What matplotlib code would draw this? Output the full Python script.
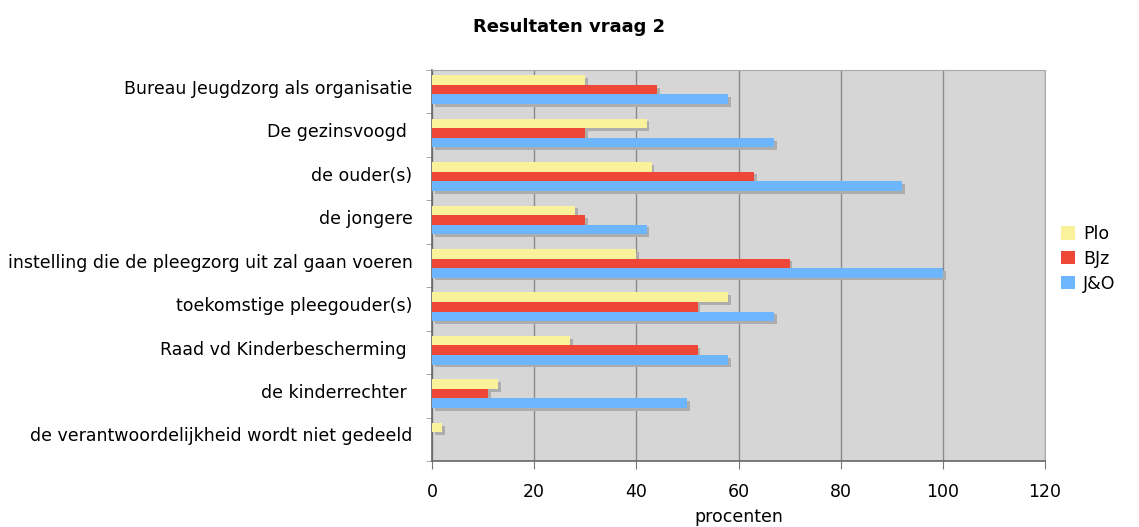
import matplotlib.pyplot as plt
import numpy as np
from matplotlib import patheffects as pe

# ======================
# DATA
# ======================

categories = [
    "Bureau Jeugdzorg als organisatie",
    "De gezinsvoogd ",
    "de ouder(s)",
    "de jongere",
    "instelling die de pleegzorg uit zal gaan voeren",
    "toekomstige pleegouder(s)",
    "Raad vd Kinderbescherming ",
    "de kinderrechter ",
    "de verantwoordelijkheid wordt niet gedeeld",
]

series_names = ["Plo", "BJz", "J&O"]
plo = [30, 42, 43, 28, 40, 58, 27, 13, 2]
bjz = [44, 30, 63, 30, 70, 52, 52, 11, 0]
jo = [58, 67, 92, 42, 100, 67, 58, 50, 0]

x_ticks = [0, 20, 40, 60, 80, 100, 120]

colors = ["#f9f29a", "#ee4637", "#6db5fc"]

# ======================
# PLOTTING
# ======================

plt.rcParams["font.family"] = ["DejaVu Sans"]

fig = plt.figure(figsize=(11.39, 5.27), dpi=100)
ax = fig.add_axes([432 / 1139, 1 - 461 / 527, 613 / 1139, 391 / 527])
ax.set_facecolor("#d6d6d6")

n = len(categories)
y = np.arange(n)
bar_h = 0.22
shadow = [pe.SimplePatchShadow(offset=(2, -2), shadow_rgbFace="#adadad", alpha=1.0), pe.Normal()]

for i, (name, vals) in enumerate(zip(series_names, [plo, bjz, jo])):
    offs = (i - 1) * bar_h - 0.05
    bars = ax.barh(y + offs, vals, height=bar_h, color=colors[i], label=name,
                   zorder=3 + i)
    for b, v in zip(bars, vals):
        if v > 0:
            b.set_path_effects(shadow)

ax.set_ylim(n - 0.5, -0.5)
ax.set_xlim(0, 120)
ax.set_xticks(x_ticks)
ax.set_xticklabels([str(t) for t in x_ticks], fontsize=12.5)
ax.xaxis.grid(True, color="#8a8a8a", linewidth=1, zorder=1)
ax.set_axisbelow(True)

# labels sit a little above the category centre, as in the original
ax.set_yticks(y - 0.11)
ax.set_yticklabels(categories, fontsize=12.5)
ax.set_yticks(np.arange(n + 1) - 0.5, minor=True)
ax.tick_params(axis="y", which="major", length=0, pad=14)
ax.tick_params(axis="y", which="minor", length=4, color="#999999")
ax.tick_params(axis="x", length=6, color="#777777", pad=10)

for side in ["top", "right"]:
    ax.spines[side].set_color("#aaaaaa")
for side in ["left", "bottom"]:
    ax.spines[side].set_color("#666666")
    ax.spines[side].set_linewidth(1.2)

ax.set_xlabel("procenten", fontsize=12.5, labelpad=5)
fig.text(0.5, 1 - 27 / 527, "Resultaten vraag 2", ha="center", va="center",
         fontsize=13, fontweight="bold")

leg = ax.legend(loc="center left", bbox_to_anchor=(1.0, 0.517), frameon=False,
                fontsize=12.5, handlelength=0.8, handleheight=0.8, handletextpad=0.5,
                labelspacing=0.4)
for h in leg.legend_handles:
    h.set_path_effects([])

plt.savefig("out.png", dpi=100)
